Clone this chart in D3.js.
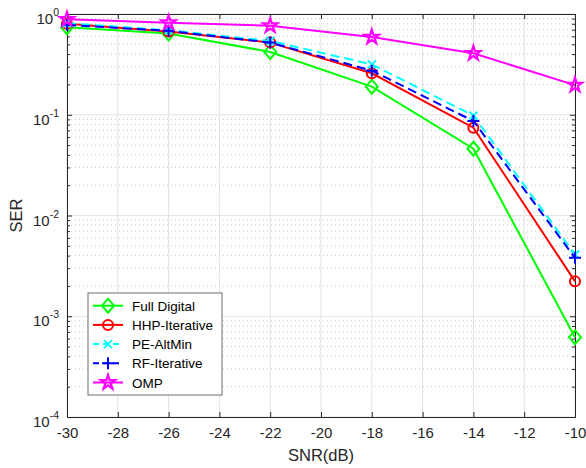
<!DOCTYPE html>
<html>
<head>
<meta charset="utf-8">
<script src="https://cdn.jsdelivr.net/npm/d3@7"></script>
<style>
  html, body { margin: 0; padding: 0; background: #fff; }
  svg { display: block; font-family: "Liberation Sans", Arial, sans-serif; }
</style>
</head>
<body>
<svg id="chart" width="586" height="468"></svg>
<script>
// SNR sweep (dB)
const snr = [-30, -26, -22, -18, -14, -10];

// Symbol error rate per precoding scheme
const fullDigital  = [0.74, 0.64, 0.42, 0.19, 0.046, 0.00062];
const hhpIterative = [0.80, 0.67, 0.52, 0.258, 0.0744, 0.00222];
const peAltMin     = [0.81, 0.69, 0.54, 0.316, 0.098, 0.0041];
const rfIterative  = [0.78, 0.68, 0.52, 0.274, 0.0867, 0.0038];
const omp          = [0.885, 0.82, 0.765, 0.59, 0.407, 0.197];

const seriesNames = ["Full Digital", "HHP-Iterative", "PE-AltMin", "RF-Iterative", "OMP"];

// Axis ticks
const xTicks = [-30, -28, -26, -24, -22, -20, -18, -16, -14, -12, -10];
const yDecades = [-4, -3, -2, -1, 0];

const series = [
  { name: seriesNames[0], values: fullDigital,  color: "#00ff00", dash: null,  marker: "diamond" },
  { name: seriesNames[1], values: hhpIterative, color: "#ff0000", dash: null,  marker: "circle" },
  { name: seriesNames[2], values: peAltMin,     color: "#00ffff", dash: "9,5", marker: "x" },
  { name: seriesNames[3], values: rfIterative,  color: "#0000ff", dash: "9,5", marker: "plus" },
  { name: seriesNames[4], values: omp,          color: "#ff00ff", dash: null,  marker: "star" }
];

const svg = d3.select("#chart");
const plotLeft = 67, plotRight = 575, plotTop = 14, plotBottom = 417;

const x = d3.scaleLinear().domain([-30, -10]).range([plotLeft, plotRight]);
const y = d3.scaleLog().domain([1e-4, 1]).range([plotBottom, plotTop]);

const axisColor = "#262626";

// Minor grid (dotted) at 2..9 x 10^k
const minorVals = [];
yDecades.slice(0, -1).forEach(k => {
  for (let m = 2; m <= 9; m++) minorVals.push(m * Math.pow(10, k));
});
svg.append("g").selectAll("line").data(minorVals).join("line")
  .attr("x1", plotLeft).attr("x2", plotRight)
  .attr("y1", d => y(d)).attr("y2", d => y(d))
  .attr("stroke", "#c8c8c8").attr("stroke-width", 1)
  .attr("stroke-dasharray", "1,3");

// Major grid
const gridG = svg.append("g");
gridG.selectAll("line.v").data(xTicks).join("line")
  .attr("class", "v")
  .attr("x1", d => x(d)).attr("x2", d => x(d))
  .attr("y1", plotTop).attr("y2", plotBottom)
  .attr("stroke", "#e3e3e3").attr("stroke-width", 1);
gridG.selectAll("line.h").data(yDecades.map(k => Math.pow(10, k))).join("line")
  .attr("class", "h")
  .attr("x1", plotLeft).attr("x2", plotRight)
  .attr("y1", d => y(d)).attr("y2", d => y(d))
  .attr("stroke", "#e3e3e3").attr("stroke-width", 1);

// Axes: bottom/left with labels, top/right mirrored ticks only
const xAxisB = d3.axisBottom(x).tickValues(xTicks).tickSizeInner(-5).tickSizeOuter(0).tickPadding(10).tickFormat(d => String(d));
const xAxisT = d3.axisTop(x).tickValues(xTicks).tickSizeInner(-5).tickSizeOuter(0).tickFormat("");
const yAxisL = d3.axisLeft(y).tickValues(yDecades.map(k => Math.pow(10, k))).tickSizeInner(-5).tickSizeOuter(0).tickFormat("");
const yAxisR = d3.axisRight(y).tickValues(yDecades.map(k => Math.pow(10, k))).tickSizeInner(-5).tickSizeOuter(0).tickFormat("");
const yMinorL = d3.axisLeft(y).tickValues(minorVals).tickSizeInner(-3).tickSizeOuter(0).tickFormat("");
const yMinorR = d3.axisRight(y).tickValues(minorVals).tickSizeInner(-3).tickSizeOuter(0).tickFormat("");

function styleAxis(g) {
  g.select(".domain").attr("stroke", axisColor).attr("stroke-width", 1);
  g.selectAll(".tick line").attr("stroke", axisColor).attr("stroke-width", 1);
  g.selectAll(".tick text").attr("fill", "#262626").style("font-size", "15px")
    .style("font-family", "'Liberation Sans', Arial, sans-serif");
}

svg.append("g").attr("transform", `translate(0,${plotBottom})`).call(xAxisB).call(styleAxis);
svg.append("g").attr("transform", `translate(0,${plotTop})`).call(xAxisT).call(styleAxis);
svg.append("g").attr("transform", `translate(${plotLeft},0)`).call(yAxisL).call(styleAxis);
svg.append("g").attr("transform", `translate(${plotRight},0)`).call(yAxisR).call(styleAxis);
svg.append("g").attr("transform", `translate(${plotLeft},0)`).call(yMinorL).call(styleAxis);
svg.append("g").attr("transform", `translate(${plotRight},0)`).call(yMinorR).call(styleAxis);

// Y tick labels as 10^k
const yLab = svg.append("g").selectAll("text").data(yDecades).join("text")
  .attr("x", 59)
  .attr("y", d => y(Math.pow(10, d)) + 10)
  .attr("text-anchor", "end")
  .attr("fill", "#262626")
  .style("font-size", "15px");
yLab.append("tspan").text("10");
yLab.append("tspan").attr("dy", -8).style("font-size", "10.5px").text(d => String(d));

// Axis titles
svg.append("text")
  .attr("x", (plotLeft + plotRight) / 2).attr("y", 461)
  .attr("text-anchor", "middle").attr("fill", "#262626")
  .style("font-size", "16.5px").text("SNR(dB)");
svg.append("text")
  .attr("transform", `translate(22,${(plotTop + plotBottom) / 2}) rotate(-90)`)
  .attr("text-anchor", "middle").attr("fill", "#262626")
  .style("font-size", "16.5px").text("SER");

// Marker drawing
function drawMarker(g, type, color) {
  const sw = 2;
  if (type === "diamond") {
    g.append("path").attr("d", "M0,-7L6,0L0,7L-6,0Z")
      .attr("fill", "none").attr("stroke", color).attr("stroke-width", sw);
  } else if (type === "circle") {
    g.append("circle").attr("r", 5)
      .attr("fill", "none").attr("stroke", color).attr("stroke-width", sw);
  } else if (type === "x") {
    g.append("path").attr("d", "M-4,-4L4,4M-4,4L4,-4")
      .attr("fill", "none").attr("stroke", color).attr("stroke-width", sw);
  } else if (type === "plus") {
    g.append("path").attr("d", "M-6,0L6,0M0,-6L0,6")
      .attr("fill", "none").attr("stroke", color).attr("stroke-width", sw);
  } else if (type === "star") {
    g.append("path").attr("d", d3.symbol(d3.symbolStar, 62)())
      .attr("fill", "none").attr("stroke", color).attr("stroke-width", 2.2)
      .attr("stroke-linejoin", "miter");
  }
}

const line = d3.line().x(d => x(d[0])).y(d => y(d[1]));

const plotG = svg.append("g");
series.forEach(s => {
  const pts = snr.map((v, i) => [v, s.values[i]]);
  const g = plotG.append("g");
  g.append("path").datum(pts).attr("d", line)
    .attr("fill", "none").attr("stroke", s.color).attr("stroke-width", 2)
    .attr("stroke-dasharray", s.dash);
  pts.forEach(p => {
    const mg = g.append("g").attr("transform", `translate(${x(p[0])},${y(p[1])})`);
    drawMarker(mg, s.marker, s.color);
  });
});

// Legend
const lg = svg.append("g");
const lgX = 88, lgY = 293, lgW = 134, lgH = 102, rowH = 19.2;
lg.append("rect").attr("x", lgX).attr("y", lgY).attr("width", lgW).attr("height", lgH)
  .attr("fill", "#fff").attr("stroke", "#6e6e6e").attr("stroke-width", 1);
series.forEach((s, i) => {
  const cy = 305.7 + i * rowH;
  lg.append("line").attr("x1", 93).attr("x2", 123).attr("y1", cy).attr("y2", cy)
    .attr("stroke", s.color).attr("stroke-width", 2).attr("stroke-dasharray", s.dash ? "6,4" : null);
  const mg = lg.append("g").attr("transform", `translate(108,${cy})`);
  drawMarker(mg, s.marker, s.color);
  lg.append("text").attr("x", 132).attr("y", cy + 5).attr("fill", "#000")
    .style("font-size", "13.5px").text(s.name);
});
</script>
</body>
</html>
